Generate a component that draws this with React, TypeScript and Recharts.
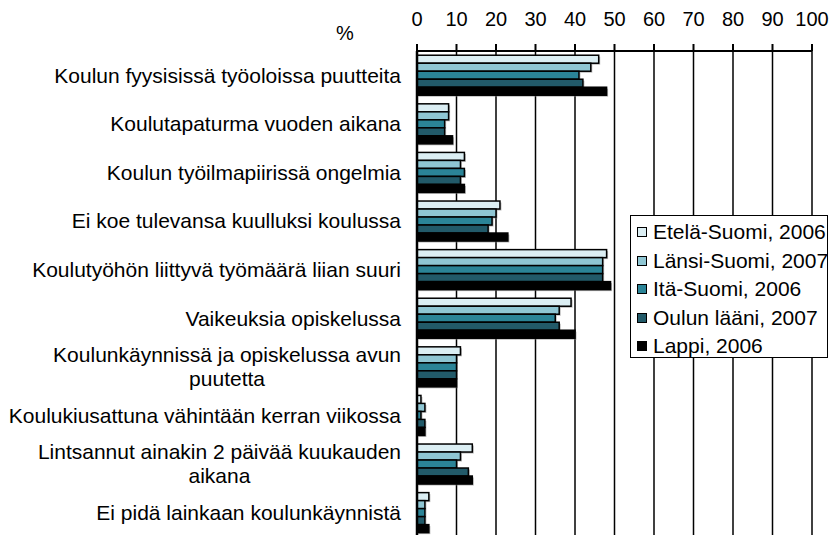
import React from 'react';
import { BarChart, Bar, XAxis, YAxis, CartesianGrid, Legend } from 'recharts';

const categories = [
  'Koulun fyysisissä työoloissa puutteita',
  'Koulutapaturma vuoden aikana',
  'Koulun työilmapiirissä ongelmia',
  'Ei koe tulevansa kuulluksi koulussa',
  'Koulutyöhön liittyvä työmäärä liian suuri',
  'Vaikeuksia opiskelussa',
  'Koulunkäynnissä ja opiskelussa avun\npuutetta',
  'Koulukiusattuna vähintään kerran viikossa',
  'Lintsannut ainakin 2 päivää kuukauden\naikana',
  'Ei pidä lainkaan koulunkäynnistä',
];

const seriesNames = [
  'Etelä-Suomi, 2006',
  'Länsi-Suomi, 2007',
  'Itä-Suomi, 2006',
  'Oulun lääni, 2007',
  'Lappi, 2006',
];
const seriesColors = ['#dbeef3', '#8fc6d3', '#2b8497', '#225a69', '#000000'];

const etela = [46, 8, 12, 21, 48, 39, 11, 1, 14, 3];
const lansi = [44, 8, 11, 20, 47, 36, 10, 2, 11, 2];
const ita = [41, 7, 12, 19, 47, 35, 10, 1, 10, 2];
const oulu = [42, 7, 11, 18, 47, 36, 10, 2, 13, 2];
const lappi = [48, 9, 12, 23, 49, 40, 10, 2, 14, 3];

const xTicks = [0, 10, 20, 30, 40, 50, 60, 70, 80, 90, 100];

const seriesValues = [etela, lansi, ita, oulu, lappi];
const data = categories.map((name, i) => {
  const row: Record<string, string | number> = { name };
  seriesValues.forEach((arr, s) => {
    row['s' + s] = arr[i];
  });
  return row;
});

const FONT = "'Liberation Sans', Arial, Helvetica, sans-serif";
const LABEL_SIZE = 21;
const LINE_H = 24;

let measureCtx: CanvasRenderingContext2D | null = null;
function measure(text: string, size: number): number {
  if (!measureCtx) {
    const c = document.createElement('canvas');
    measureCtx = c.getContext('2d');
  }
  if (!measureCtx) return text.length * size * 0.5;
  measureCtx.font = `${size}px 'Liberation Sans', Arial, sans-serif`;
  return measureCtx.measureText(text).width;
}

const CategoryTick = (props: any) => {
  const { x, y, payload } = props;
  const lines = String(payload.value).split('\n');
  if (lines.length === 1) {
    return (
      <text x={x} y={y} dy="0.35em" textAnchor="end" fill="#000" fontSize={LABEL_SIZE} fontFamily={FONT}>
        {lines[0]}
      </text>
    );
  }
  const maxW = Math.max(...lines.map((l) => measure(l, LABEL_SIZE)));
  const cx = x - maxW / 2;
  const y0 = y - ((lines.length - 1) * LINE_H) / 2;
  return (
    <text textAnchor="middle" fill="#000" fontSize={LABEL_SIZE} fontFamily={FONT}>
      {lines.map((l, i) => (
        <tspan key={i} x={cx} y={y0 + i * LINE_H} dy="0.35em">
          {l}
        </tspan>
      ))}
    </text>
  );
};

const ShadowBar = (props: any) => {
  const { x, y, width, height, fill } = props;
  if (!width || width <= 0) return null;
  return (
    <g>
      <rect x={x + 1.5} y={y + 1.5} width={width} height={height} fill="#7f7f7f" opacity={0.55} />
      <rect x={x} y={y} width={width} height={height} fill={fill} stroke="#000" strokeWidth={1.5} />
    </g>
  );
};

const LegendBox = () => (
  <div
    style={{
      border: '1px solid #000',
      background: '#fff',
      width: 198,
      height: 143,
      boxSizing: 'border-box',
      padding: '2px 0 0 6px',
      fontFamily: FONT,
      fontSize: 21,
      color: '#000',
    }}
  >
    {seriesNames.map((n, i) => (
      <div key={n} style={{ display: 'flex', alignItems: 'center', height: 28.5, whiteSpace: 'nowrap' }}>
        <span
          style={{
            display: 'inline-block',
            width: 10,
            height: 10,
            boxSizing: 'border-box',
            border: '1px solid #000',
            background: seriesColors[i],
            marginRight: 6,
            flex: '0 0 auto',
          }}
        />
        {n}
      </div>
    ))}
  </div>
);

export default function App() {
  return (
    <div style={{ position: 'absolute', left: 0, top: 0, width: 832, height: 535, overflow: 'hidden', background: '#fff' }}>
      <div
        style={{
          position: 'absolute',
          left: 336,
          top: 22,
          fontFamily: FONT,
          fontSize: 20,
          lineHeight: '22px',
          color: '#000',
        }}
      >
        %
      </div>
      <BarChart
        width={832}
        height={540}
        data={data}
        layout="vertical"
        margin={{ top: 6, right: 20, bottom: 3, left: 0 }}
        barCategoryGap="8.7%"
        barGap={0}
      >
        <CartesianGrid horizontal={false} stroke="#000" strokeWidth={1.5} />
        <XAxis
          type="number"
          orientation="top"
          domain={[0, 100]}
          ticks={xTicks}
          interval={0}
          height={45}
          tickSize={7}
          tickMargin={18}
          axisLine={{ stroke: '#000', strokeWidth: 2 }}
          tickLine={{ stroke: '#000', strokeWidth: 2 }}
          tick={{ fill: '#000', fontSize: 20, fontFamily: FONT }}
        />
        <YAxis
          type="category"
          dataKey="name"
          width={417}
          interval={0}
          tickLine={false}
          tickSize={0}
          tickMargin={16}
          axisLine={{ stroke: '#000', strokeWidth: 2.5 }}
          tick={<CategoryTick />}
        />
        {seriesNames.map((n, i) => (
          <Bar
            key={n}
            dataKey={'s' + i}
            name={n}
            fill={seriesColors[i]}
            shape={<ShadowBar />}
            isAnimationActive={false}
          />
        ))}
        <Legend
          layout="vertical"
          align="center"
          verticalAlign="middle"
          content={<LegendBox />}
          wrapperStyle={{ left: 630, top: 215, width: 198, height: 143 }}
        />
      </BarChart>
    </div>
  );
}
